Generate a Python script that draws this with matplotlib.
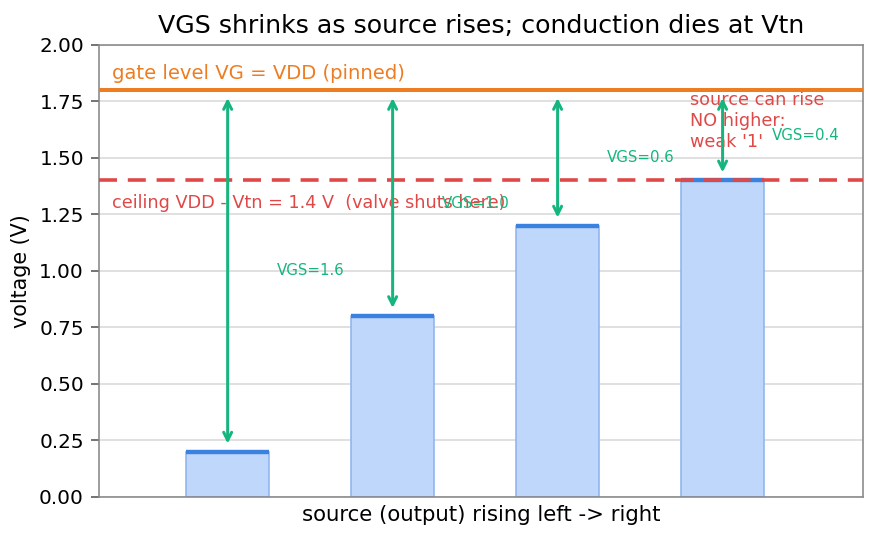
import matplotlib
matplotlib.use("Agg")
import matplotlib.pyplot as plt

# ---- data ----
source_v = [0.2, 0.8, 1.2, 1.4]
vgs_labels = ["VGS=1.6", "VGS=1.0", "VGS=0.6", "VGS=0.4"]
VG = 1.8
ceiling = 1.4

fig, ax = plt.subplots(figsize=(6.083, 3.75), dpi=144)

xs = list(range(len(source_v)))
ax.bar(xs, source_v, width=0.5, color="#bfd7fb", edgecolor="#8fb4ee", linewidth=0.8, zorder=2)
for x, v in zip(xs, source_v):
    ax.hlines(v, x - 0.25, x + 0.25, color="#3b82e0", linewidth=2.2, zorder=3)

ax.axhline(VG, color="#ee7d22", linewidth=2, zorder=4)
ax.axhline(ceiling, color="#e04848", linewidth=1.8, linestyle=(0, (5, 3)), zorder=4)

for x, v, lab in zip(xs, source_v, vgs_labels):
    ax.annotate("", xy=(x, v), xytext=(x, VG),
                arrowprops=dict(arrowstyle="<->", color="#14b67e", lw=1.5,
                                shrinkA=4, shrinkB=4), zorder=5)
    ax.text(x + 0.3, (v + VG) / 2, lab, color="#14b67e", fontsize=7.5,
            ha="left", va="center", zorder=6)

ax.text(-0.7, 1.83, "gate level VG = VDD (pinned)", color="#ee7d22",
        fontsize=9.8, ha="left", va="bottom")
ax.text(-0.7, 1.30, "ceiling VDD - Vtn = 1.4 V  (valve shuts here)", color="#e04848",
        fontsize=8.8, ha="left", va="center")
ax.text(2.8, 1.795, "source can rise\nNO higher:\nweak '1'", color="#e04848",
        fontsize=8.8, ha="left", va="top", linespacing=1.2)

ax.set_xlim(-0.78, 3.85)
ax.set_ylim(0, 2.0)
ax.set_xticks([])
ax.set_yticks([0, 0.25, 0.5, 0.75, 1.0, 1.25, 1.5, 1.75, 2.0])
ax.set_ylabel("voltage (V)", fontsize=10.3)
ax.set_xlabel("source (output) rising left -> right", fontsize=10.6)
ax.set_title("VGS shrinks as source rises; conduction dies at Vtn", fontsize=12.6)
ax.grid(axis="y", color="#d9d9d9", linewidth=0.8, zorder=0)
ax.set_axisbelow(True)
for s in ax.spines.values():
    s.set_color("#888888")
ax.tick_params(axis="y", color="#555555", length=4)

fig.subplots_adjust(left=0.113, right=0.985, bottom=0.08, top=0.917)
fig.savefig("out.png", dpi=144)
